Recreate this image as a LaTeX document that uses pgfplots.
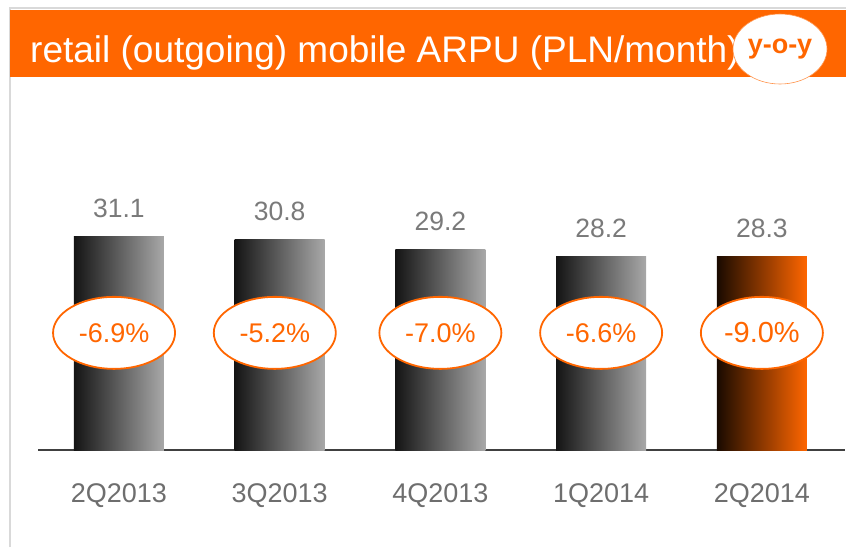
\documentclass[border=0pt]{standalone}
\usepackage{pgfplots}
\pgfplotsset{compat=1.18}
\usepackage{fontspec}
\setmainfont{Liberation Sans}
\usetikzlibrary{shapes.geometric}
\definecolor{tporange}{HTML}{FF6600}
\definecolor{labelgray}{HTML}{7A7A7A}
\definecolor{ticgray}{HTML}{6E6E6E}
\begin{document}
\begin{tikzpicture}
\path[fill=white,use as bounding box] (0,0) rectangle (846pt,547pt);
\draw[black!15, line width=1.2pt] (10pt,0) -- (10pt,539pt) -- (846pt,539pt);
\fill[tporange] (10pt,470pt) rectangle (846pt,537pt);
\node[anchor=base west, text=white, inner sep=0, font=\fontsize{37}{40}\selectfont] at (30pt,484pt) {retail (outgoing) mobile ARPU (PLN/month)};
\node[ellipse, fill=white, draw=tporange!70, line width=0.6pt, minimum width=94pt, minimum height=70pt, inner sep=0, font=\bfseries\fontsize{27}{30}\selectfont, text=tporange] at (780pt,498pt) {y-o-y};
\begin{axis}[
  anchor=south west, at={(38.5pt,97pt)},
  x=160.75pt, y=6.85pt,
  xmin=-0.5, xmax=4.52, ymin=0, ymax=40,
  axis x line=bottom, axis y line=none,
  x axis line style={-, line width=1.5pt, draw=black!75},
  xtick={0,...,4}, xticklabels={2Q2013,3Q2013,4Q2013,1Q2014,2Q2014},
  major tick length=0pt,
  xticklabel style={anchor=base, yshift=-52pt, font=\fontsize{27}{30}\selectfont, text=ticgray},
  clip=false,
  /pgf/number format/.cd, fixed, fixed zerofill, precision=1, assume math mode=true,
  /pgfplots/.cd,
  graybar/.style={ybar, bar width=90pt, bar shift=0pt, draw=none, left color=black!92, right color=black!34,
    nodes near coords,
    every node near coord/.style={anchor=base, yshift=19pt, text=labelgray, font=\fontsize{26.5}{30}\selectfont}},
  orangebar/.style={ybar, bar width=90pt, bar shift=0pt, draw=none, left color=black!90!tporange, right color=tporange,
    nodes near coords,
    every node near coord/.style={anchor=base, yshift=19pt, text=labelgray, font=\fontsize{26.5}{30}\selectfont}},
]
\addplot[graybar] coordinates {(0,31.1)};
\addplot[graybar] coordinates {(1,30.8)};
\addplot[graybar] coordinates {(2,29.2)};
\addplot[graybar] coordinates {(3,28.2)};
\addplot[orangebar] coordinates {(4,28.3)};
\addplot[draw=none, mark=none, nodes near coords, point meta=explicit symbolic,
  every node near coord/.style={ellipse, draw=tporange, line width=1.8pt, fill=white, minimum width=122pt, minimum height=72pt, inner sep=0pt, anchor=center, text=tporange, font=\fontsize{27}{30}\selectfont}]
  coordinates {(-0.03,17.1) [-6.9\%] (0.97,17.1) [-5.2\%] (2,17.1) [-7.0\%] (3,17.1) [-6.6\%] (4,17.1) [{\fontsize{29}{30}\selectfont -9.0\%}]};
\end{axis}
\end{tikzpicture}
\end{document}
